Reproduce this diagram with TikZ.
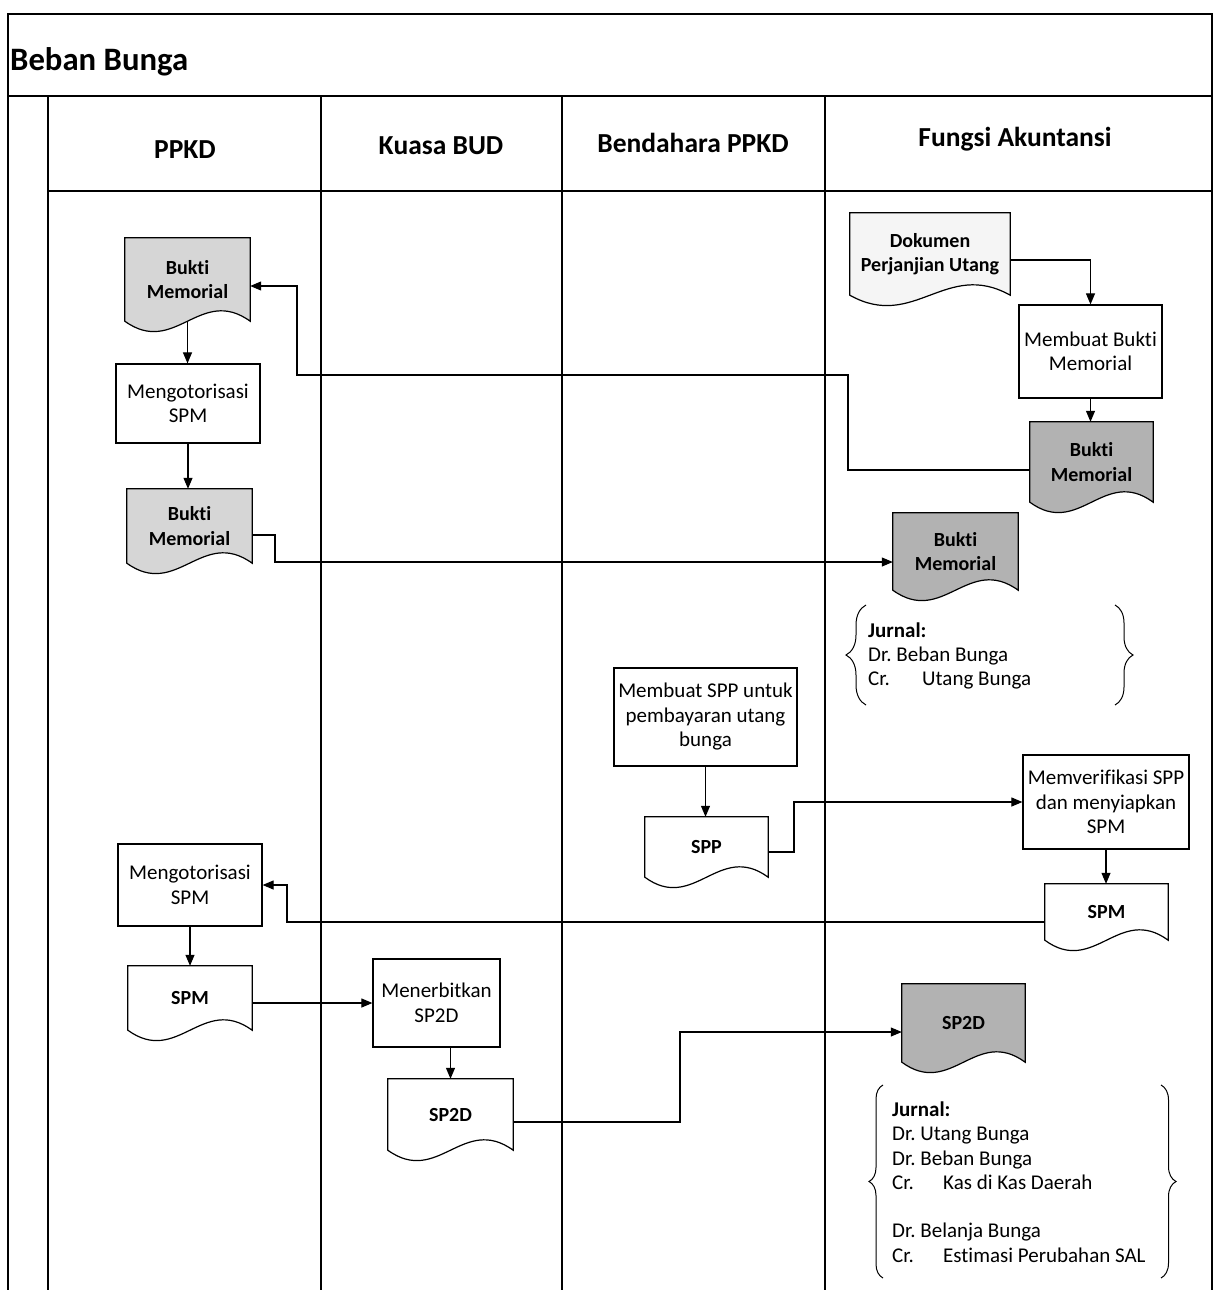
\documentclass[tikz,border=0pt]{standalone}
\usepackage{fontspec}
\setmainfont{Carlito}[Ligatures=NoCommon]
\frenchspacing
\usetikzlibrary{arrows.meta,calc,decorations.pathreplacing}
\pgfdeclarelayer{docs}
\pgfsetlayers{docs,main}
\tikzset{
  frame/.style={line width=1.3pt},
  lane/.style={line width=1.1pt},
  box/.style={draw, line width=1.2pt, align=center, inner sep=1pt, font=\fontsize{21}{24.5}\selectfont},
  doc/.style={align=center, inner sep=0pt, font=\bfseries\fontsize{20}{24.5}\selectfont},
  conn/.style={line width=1.1pt, -{Triangle[length=11pt,width=9pt]}},
  hdr/.style={font=\bfseries\fontsize{27.5}{31}\selectfont},
  jtext/.style={align=left, anchor=west, inner sep=0pt, font=\fontsize{21}{24.3}\selectfont},
  bracel/.style={line width=1pt, decorate, decoration={brace, amplitude=#1}},
}
\newcommand\docshape[2]{%
  \begin{pgfonlayer}{docs}
  \draw[line width=1.2pt, fill=#2] let \p1=(#1.north west), \p2=(#1.south east), \n1={\x2-\x1} in
    (\p1) -- (\x2,\y1) -- (\p2)
    .. controls ($(\p2)+(-0.4*\n1,36pt)$) and ($(\x1,\y2)+(0.4*\n1,-36pt)$) .. (\x1,\y2) -- cycle;
  \end{pgfonlayer}}
\begin{document}
\begin{tikzpicture}[x=1pt,y=-1pt]
\useasboundingbox (0,0) rectangle (1217,1290);
% frame and lanes
\draw[frame] (8,1290) -- (8,14) -- (1212,14) -- (1212,1290);
\draw[frame] (8,96) -- (1212,96);
\draw[lane] (48,96) -- (48,1290);
\draw[lane] (48,191) -- (1212,191);
\draw[lane] (321,96) -- (321,1290);
\draw[lane] (562,96) -- (562,1290);
\draw[lane] (825,96) -- (825,1290);
\node[anchor=west, inner sep=0pt, font=\bfseries\fontsize{32.7}{36}\selectfont] (title) at (10,62) {Beban Bunga};
\node[hdr] (h1) at (185,150) {PPKD};
\node[hdr] (h2) at (441,146) {Kuasa BUD};
\node[hdr] (h3) at (693,143) {Bendahara PPKD};
\node[hdr] (h4) at (1015,139) {Fungsi Akuntansi};

% nodes
\node[doc, minimum width=125pt, minimum height=83pt] (bm1) at (187.5,279.5) {Bukti\\Memorial};
\node[box, minimum width=144pt, minimum height=79pt] (ms1) at (188,403.5) {Mengotorisasi\\SPM};
\node[doc, minimum width=125pt, minimum height=74pt] (bm2) at (189.5,526) {Bukti\\Memorial};
\node[doc, minimum width=160pt, minimum height=82pt] (dpu) at (930,254) {Dokumen\\Perjanjian Utang};
\node[box, minimum width=143pt, minimum height=93pt] (mbm) at (1090.5,351.5) {Membuat Bukti\\Memorial};
\node[doc, minimum width=123pt, minimum height=80pt] (bm3) at (1091.5,462) {Bukti\\Memorial};
\node[doc, minimum width=125pt, minimum height=77pt] (bm4) at (955.5,551.5) {Bukti\\Memorial};
\node[box, minimum width=183pt, minimum height=98pt] (mspp) at (705.5,717) {Membuat SPP untuk\\pembayaran utang\\bunga};
\node[doc, minimum width=123pt, minimum height=60pt] (spp) at (706.5,847) {SPP};
\node[box, minimum width=166pt, minimum height=94pt] (mvs) at (1106,802) {Memverifikasi SPP\\dan menyiapkan\\SPM};
\node[doc, minimum width=123pt, minimum height=56pt] (spmr) at (1106.5,912) {SPM};
\node[box, minimum width=144pt, minimum height=82pt] (ms2) at (190,885) {Mengotorisasi\\SPM};
\node[doc, minimum width=124pt, minimum height=64pt] (spml) at (190,998) {SPM};
\node[box, minimum width=127pt, minimum height=88pt] (msp2d) at (436.5,1003) {Menerbitkan\\SP2D};
\node[doc, minimum width=125pt, minimum height=71pt] (sp2d) at (450.5,1114.5) {SP2D};
\node[doc, minimum width=123pt, minimum height=78pt] (sp2ds) at (963.5,1023) {SP2D};

\docshape{bm1}{black!16}
\docshape{bm2}{black!16}
\docshape{dpu}{black!4}
\docshape{bm3}{black!30}
\docshape{bm4}{black!30}
\docshape{spp}{white}
\docshape{spmr}{white}
\docshape{spml}{white}
\docshape{sp2d}{white}
\docshape{sp2ds}{black!30}

% journals
\node[jtext] (j1) at (868,656) {\textbf{Jurnal:}\\Dr. Beban Bunga\\\makebox[54pt][l]{Cr.}Utang Bunga};
\draw[bracel=20pt] (866,705) -- (866,605);
\draw[bracel=18pt] (1115,605) -- (1115,705);
\node[jtext] (j2) at (892,1182) {\textbf{Jurnal:}\\Dr. Utang Bunga\\Dr. Beban Bunga\\\makebox[51pt][l]{Cr.}Kas di Kas Daerah\\\mbox{}\\Dr. Belanja Bunga\\\makebox[51pt][l]{Cr.}Estimasi Perubahan SAL};
\draw[bracel=14pt] (883,1278) -- (883,1085);
\draw[bracel=15pt] (1161,1085) -- (1161,1278);

% connectors
\draw[conn] (bm1.south) -- (bm1.south |- ms1.north);
\draw[conn] (ms1.south) -- (ms1.south |- bm2.north);
\draw[conn] ([yshift=-6pt]dpu.east) -| (mbm.north);
\draw[conn] (mbm.south) -- (mbm.south |- bm3.north);
\draw[conn] ([yshift=-8pt]bm3.west) -- (848,470) -- (848,375) -- (297,375) -- (297,286) -- ([yshift=-6.5pt]bm1.east);
\draw[conn] ([yshift=-9pt]bm2.east) -- (275,535) |- ([yshift=-10.5pt]bm4.west);
\draw[conn] (mspp.south) -- (mspp.south |- spp.north);
\draw[conn] ([yshift=-5pt]spp.east) -- (794,852) |- (mvs.west);
\draw[conn] (mvs.south) -- (mvs.south |- spmr.north);
\draw[conn] ([yshift=-10pt]spmr.west) -- (287,922) |- (ms2.east);
\draw[conn] (ms2.south) -- (ms2.south |- spml.north);
\draw[conn] ([yshift=-5pt]spml.east) -- (msp2d.west);
\draw[conn] (msp2d.south -| sp2d.north) -- (sp2d.north);
\draw[conn] ([yshift=-7.5pt]sp2d.east) -- (680,1122) |- ([yshift=-9pt]sp2ds.west);
\end{tikzpicture}
\end{document}
